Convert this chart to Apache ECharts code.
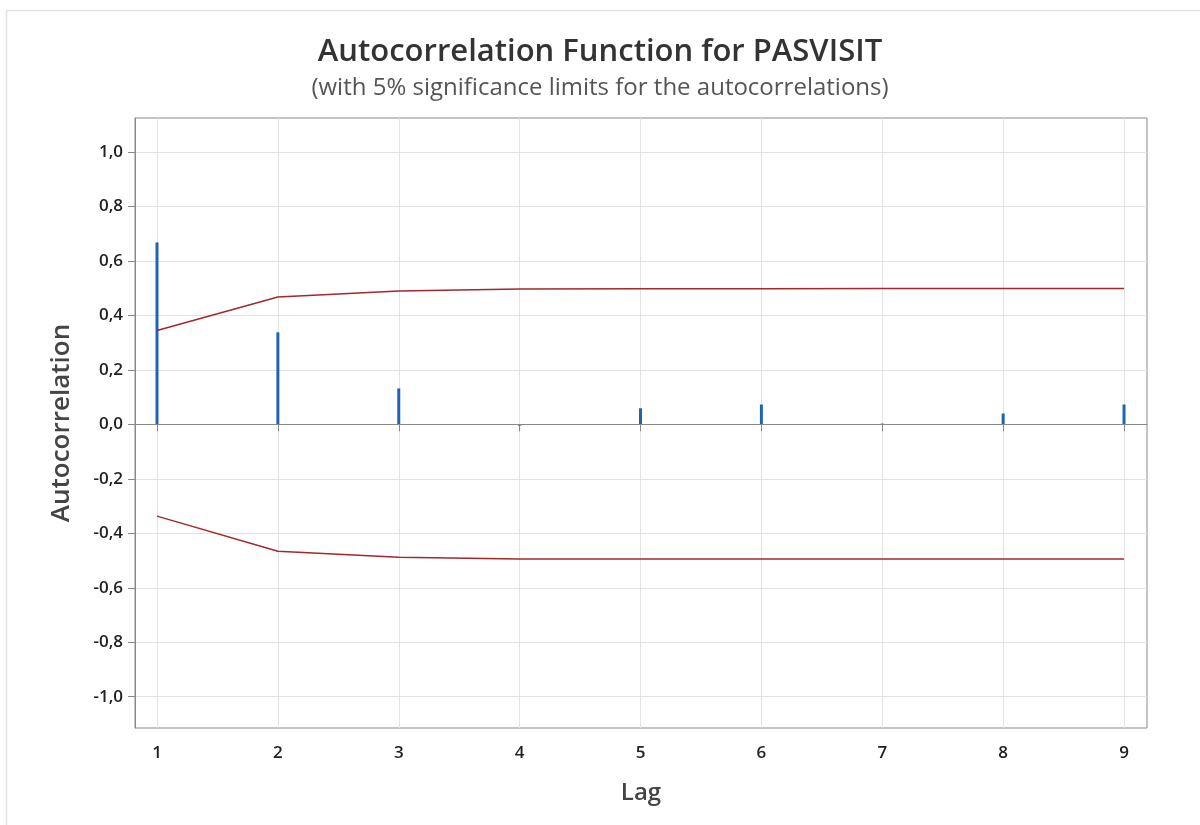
<!DOCTYPE html>
<html>
<head>
<meta charset="utf-8">
<script src="https://cdn.jsdelivr.net/npm/echarts@6/dist/echarts.min.js"></script>
<style>html,body{margin:0;padding:0;background:#fff}#c{width:1200px;height:825px}</style>
</head>
<body>
<div id="c"></div>
<script>
const lags = [1, 2, 3, 4, 5, 6, 7, 8, 9];
const acf = [0.668, 0.338, 0.132, -0.005, 0.059, 0.073, 0.003, 0.040, 0.073];
const upperLimit = [0.345, 0.468, 0.490, 0.497, 0.498, 0.498, 0.499, 0.499, 0.499];
const lowerLimit = [-0.337, -0.466, -0.488, -0.494, -0.494, -0.494, -0.494, -0.494, -0.494];
const yTicks = [-1.0, -0.8, -0.6, -0.4, -0.2, 0.0, 0.2, 0.4, 0.6, 0.8, 1.0];

const FONT = '"Open Sans", "Noto Sans", sans-serif';
const chart = echarts.init(document.getElementById('c'));
chart.setOption({
  animation: false,
  backgroundColor: '#fff',
  graphic: [{
    type: 'rect', shape: {x: 6.5, y: 10.5, width: 1300, height: 900},
    style: {fill: 'none', stroke: '#e3e3e3', lineWidth: 1.5}, silent: true
  }],
  title: [{
    text: 'Autocorrelation Function for PASVISIT',
    left: 'center', top: 32,
    textStyle: {fontFamily: FONT, fontSize: 31, fontWeight: 600, color: '#333'}
  }, {
    text: '(with 5% significance limits for the autocorrelations)',
    left: 'center', top: 71,
    textStyle: {fontFamily: FONT, fontSize: 24, fontWeight: 'normal', color: '#555'}
  }],
  grid: {left: 135, right: 53, top: 118, bottom: 97, show: true, borderColor: '#888', borderWidth: 1},
  xAxis: {
    type: 'value', min: 0.818, max: 9.19,
    name: 'Lag', nameLocation: 'middle', nameGap: 53,
    nameTextStyle: {fontFamily: FONT, fontSize: 24, color: '#444', fontWeight: 600},
    axisLine: {show: true, lineStyle: {color: '#888'}},
    axisTick: {show: true, length: 7, lineStyle: {color: '#888'}, customValues: lags},
    axisLabel: {fontFamily: FONT, fontSize: 17, fontWeight: 600, color: '#222', margin: 17, customValues: lags,
      formatter: v => String(Math.round(v))},
    splitLine: {show: true, lineStyle: {color: '#e3e3e3'}}
  },
  yAxis: {
    type: 'value', min: -1.115, max: 1.125,
    name: 'Autocorrelation', nameLocation: 'middle', nameGap: 60,
    nameTextStyle: {fontFamily: FONT, fontSize: 26, color: '#444', fontWeight: 600},
    axisLine: {show: true, lineStyle: {color: '#888'}},
    axisTick: {show: true, length: 7, lineStyle: {color: '#888'}, customValues: yTicks},
    axisLabel: {fontFamily: FONT, fontSize: 17, fontWeight: 600, color: '#222', margin: 12, customValues: yTicks,
      formatter: v => v.toFixed(1).replace('.', ',')},
    splitLine: {show: true, lineStyle: {color: '#e3e3e3'}}
  },
  series: [{
    type: 'bar', barWidth: 3,
    data: lags.map((l, i) => [l, acf[i]]),
    itemStyle: {color: '#1f64b4'},
    markLine: {
      silent: true, symbol: 'none', label: {show: false},
      lineStyle: {color: '#888', width: 1, type: 'solid'},
      data: [{yAxis: 0}]
    }
  }, {
    type: 'line', showSymbol: false, symbol: 'none',
    data: lags.map((l, i) => [l, upperLimit[i]]),
    lineStyle: {color: '#a3282c', width: 1.5}
  }, {
    type: 'line', showSymbol: false, symbol: 'none',
    data: lags.map((l, i) => [l, lowerLimit[i]]),
    lineStyle: {color: '#a3282c', width: 1.5}
  }]
});
</script>
</body>
</html>
